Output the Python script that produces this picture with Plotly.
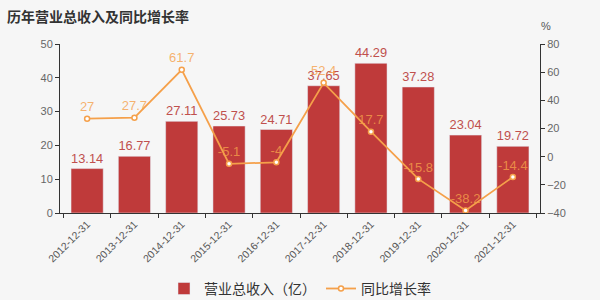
import plotly.graph_objects as go

categories = ["2012-12-31", "2013-12-31", "2014-12-31", "2015-12-31", "2016-12-31",
              "2017-12-31", "2018-12-31", "2019-12-31", "2020-12-31", "2021-12-31"]
revenue = [13.14, 16.77, 27.11, 25.73, 24.71, 37.65, 44.29, 37.28, 23.04, 19.72]
growth = [27, 27.7, 61.7, -5.1, -4, 52.4, 17.7, -15.8, -38.2, -14.4]

FONT = "Liberation Sans, Noto Sans CJK SC, sans-serif"
BAR_COLOR = "#bf3a3a"
LINE_COLOR = "#f5a04a"

fig = go.Figure()
fig.add_trace(go.Bar(
    x=categories, y=revenue, name="营业总收入（亿）",
    marker=dict(color=BAR_COLOR),
    width=0.68,
    text=[f"{v:g}" for v in revenue], textposition="outside",
    textfont=dict(color="#c0504d", size=13, family=FONT),
    cliponaxis=False,
))
fig.add_trace(go.Scatter(
    x=categories, y=growth, name="同比增长率", yaxis="y2",
    mode="lines+markers+text",
    line=dict(color=LINE_COLOR, width=1.8),
    marker=dict(size=5, color="white", line=dict(color=LINE_COLOR, width=1.5)),
    text=[f"{v:g}" for v in growth], textposition="top center",
    textfont=dict(color="rgba(245,160,74,0.8)", size=13, family=FONT),
    cliponaxis=False,
))

fig.update_layout(
    width=600, height=300,
    margin=dict(l=60, r=60, t=44, b=87),
    paper_bgcolor="#f6f6f6", plot_bgcolor="#f6f6f6",
    font=dict(family=FONT, color="#555"),
    showlegend=True,
    legend=dict(orientation="h", x=0.5, xanchor="center", xref="container",
                y=0.037, yanchor="middle", yref="container",
                font=dict(size=14, color="#333"), bgcolor="rgba(0,0,0,0)"),
    bargap=0.3,
    xaxis=dict(
        type="category", showgrid=False, showline=True, linecolor="#333", linewidth=1,
        ticks="outside", tickson="boundaries", ticklen=4, tickcolor="#333",
        tickangle=-45, tickfont=dict(size=10.5, color="#555"), automargin=False,
    ),
    yaxis=dict(
        range=[0, 50], dtick=10, showgrid=False, zeroline=False,
        showline=True, linecolor="#333", linewidth=1,
        ticks="outside", ticklen=4, tickcolor="#333",
        tickfont=dict(size=11, color="#666"), automargin=False,
    ),
    yaxis2=dict(
        range=[-40, 80], dtick=20, overlaying="y", side="right",
        showgrid=False, zeroline=False,
        showline=True, linecolor="#333", linewidth=1,
        ticks="outside", ticklen=4, tickcolor="#333",
        tickfont=dict(size=11, color="#666"), automargin=False,
    ),
    annotations=[
        dict(text="<b>历年营业总收入及同比增长率</b>", xref="paper", yref="paper",
             x=-0.1125, y=1.1, xanchor="left", yanchor="bottom", showarrow=False,
             xshift=-1, yshift=0,
             font=dict(size=14, color="#333", family=FONT)),
        dict(text="%", xref="paper", yref="paper", x=1, y=1.06, xanchor="center",
             yanchor="bottom", xshift=6, showarrow=False,
             font=dict(size=11, color="#555", family=FONT)),
    ],
)

fig.write_html("out.html")
